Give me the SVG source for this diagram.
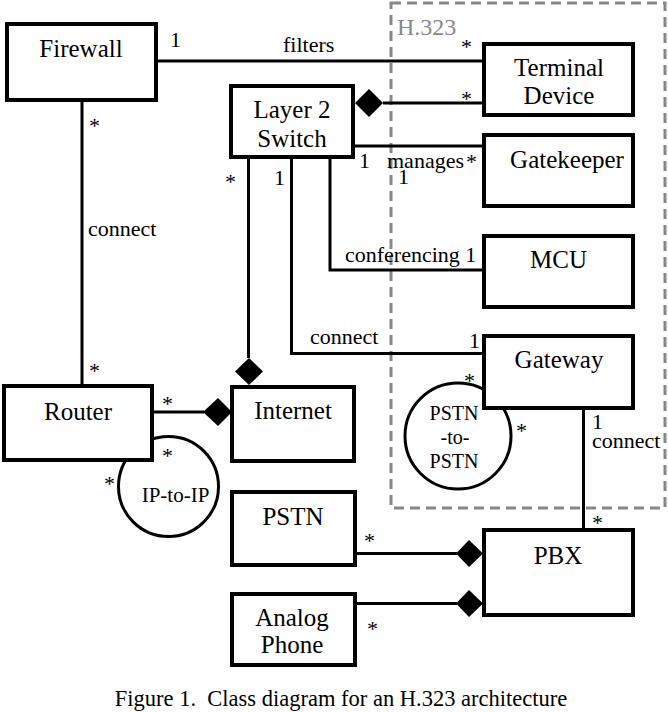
<svg xmlns="http://www.w3.org/2000/svg" width="668" height="712" viewBox="0 0 668 712" font-family="'Liberation Serif', 'DejaVu Serif', serif">
<style>
.box{fill:#fff;stroke:#000;stroke-width:4}
.ln{fill:none;stroke:#000;stroke-width:3}
.circ{fill:#fff;stroke:#000;stroke-width:3}
.dia{fill:#000}
text{font-family:'Liberation Serif','DejaVu Serif',serif;fill:#000}
.n{font-size:25px;text-anchor:middle}
.l{font-size:22px}
.c{font-size:20px;text-anchor:middle}
</style>
<rect id="h323" x="391" y="3" width="274" height="505" fill="none" stroke="#888" stroke-width="3" stroke-dasharray="10,6"/>
<text x="397" y="35" style="font-size:24px;fill:#888">H.323</text>
<g id="connectors">
<line class="ln" x1="156" y1="61" x2="484" y2="61"/>
<line class="ln" x1="383" y1="103" x2="484" y2="103"/>
<polygon class="dia" points="355,103 369,89 383,103 369,117"/>
<line class="ln" x1="353" y1="146" x2="484" y2="146"/>
<polyline class="ln" points="330,157 330,270 484,270"/>
<polyline class="ln" points="291.5,157 291.5,353.5 484,353.5"/>
<line class="ln" x1="248.5" y1="157" x2="248.5" y2="358"/>
<polygon class="dia" points="249,358 263,371.5 249,385 235,371.5"/>
<line class="ln" x1="82" y1="100" x2="82" y2="386"/>
<line class="ln" x1="152" y1="412" x2="204" y2="412"/>
<polygon class="dia" points="203,412 218,398 232,412 218,426"/>
<line class="ln" x1="583.5" y1="408" x2="583.5" y2="530"/>
<line class="ln" x1="355" y1="553.5" x2="457" y2="553.5"/>
<polygon class="dia" points="456,553.5 469,540 483,553.5 469,567"/>
<line class="ln" x1="355" y1="603.5" x2="457" y2="603.5"/>
<polygon class="dia" points="456,603.5 469,590 483,603.5 469,617"/>
</g>
<g id="pstn-to-pstn">
<circle class="circ" cx="458" cy="436" r="53"/>
<text class="c" x="454" y="420">PSTN</text>
<text class="c" x="455" y="444">-to-</text>
<text class="c" x="454" y="468">PSTN</text>
</g>
<g id="ip-to-ip">
<circle class="circ" cx="168.5" cy="486.5" r="50"/>
<text class="c" x="175.5" y="502" style="font-size:21px">IP-to-IP</text>
</g>
<g id="firewall"><rect class="box" x="7" y="24" width="149" height="76"/><text class="n" x="81" y="57">Firewall</text></g>
<g id="terminal"><rect class="box" x="484" y="44" width="149" height="71"/><text class="n" x="559" y="76">Terminal</text><text class="n" x="559" y="104">Device</text></g>
<g id="switch"><rect class="box" x="231" y="86" width="122" height="71"/><text class="n" x="292" y="118">Layer 2</text><text class="n" x="292" y="147">Switch</text></g>
<g id="gatekeeper"><rect class="box" x="484" y="135" width="149" height="71"/><text class="n" x="567" y="168">Gatekeeper</text></g>
<g id="mcu"><rect class="box" x="484" y="236" width="149" height="71"/><text class="n" x="558.5" y="268">MCU</text></g>
<g id="gateway"><rect class="box" x="484" y="336" width="149" height="72"/><text class="n" x="559" y="368">Gateway</text></g>
<g id="router"><rect class="box" x="4" y="386" width="148" height="74"/><text class="n" x="78" y="420">Router</text></g>
<g id="internet"><rect class="box" x="232" y="387" width="122" height="74"/><text class="n" x="293" y="419">Internet</text></g>
<g id="pstn"><rect class="box" x="232" y="492" width="123" height="73"/><text class="n" x="293" y="525">PSTN</text></g>
<g id="analog"><rect class="box" x="232" y="594" width="123" height="71"/><text class="n" x="292" y="626">Analog</text><text class="n" x="292" y="653">Phone</text></g>
<g id="pbx"><rect class="box" x="484" y="530" width="149" height="85"/><text class="n" x="558" y="564">PBX</text></g>
<g id="labels">
<text class="l" x="170" y="47">1</text>
<text class="l" x="283" y="52">filters</text>
<text class="l" x="461" y="54">*</text>
<text class="l" x="461" y="106">*</text>
<text class="l" x="359" y="168">1</text>
<text class="l" x="387" y="168">manages</text>
<text class="l" x="466" y="169">*</text>
<text class="l" x="398" y="184">1</text>
<text class="l" x="225" y="189">*</text>
<text class="l" x="274" y="185">1</text>
<text class="l" x="345" y="262">conferencing 1</text>
<text class="l" x="310" y="344">connect</text>
<text class="l" x="469" y="348">1</text>
<text class="l" x="464" y="388">*</text>
<text class="l" x="516" y="438">*</text>
<text class="l" x="592" y="429">1</text>
<text class="l" x="592" y="448">connect</text>
<text class="l" x="592" y="530">*</text>
<text class="l" x="364" y="548">*</text>
<text class="l" x="367" y="636">*</text>
<text class="l" x="89" y="133">*</text>
<text class="l" x="88" y="236">connect</text>
<text class="l" x="89" y="378">*</text>
<text class="l" x="162" y="411">*</text>
<text class="l" x="162" y="463">*</text>
<text class="l" x="104" y="491">*</text>
</g>
<text x="341" y="706" xml:space="preserve" style="font-size:22.5px;text-anchor:middle">Figure 1.  Class diagram for an H.323 architecture</text>
</svg>
